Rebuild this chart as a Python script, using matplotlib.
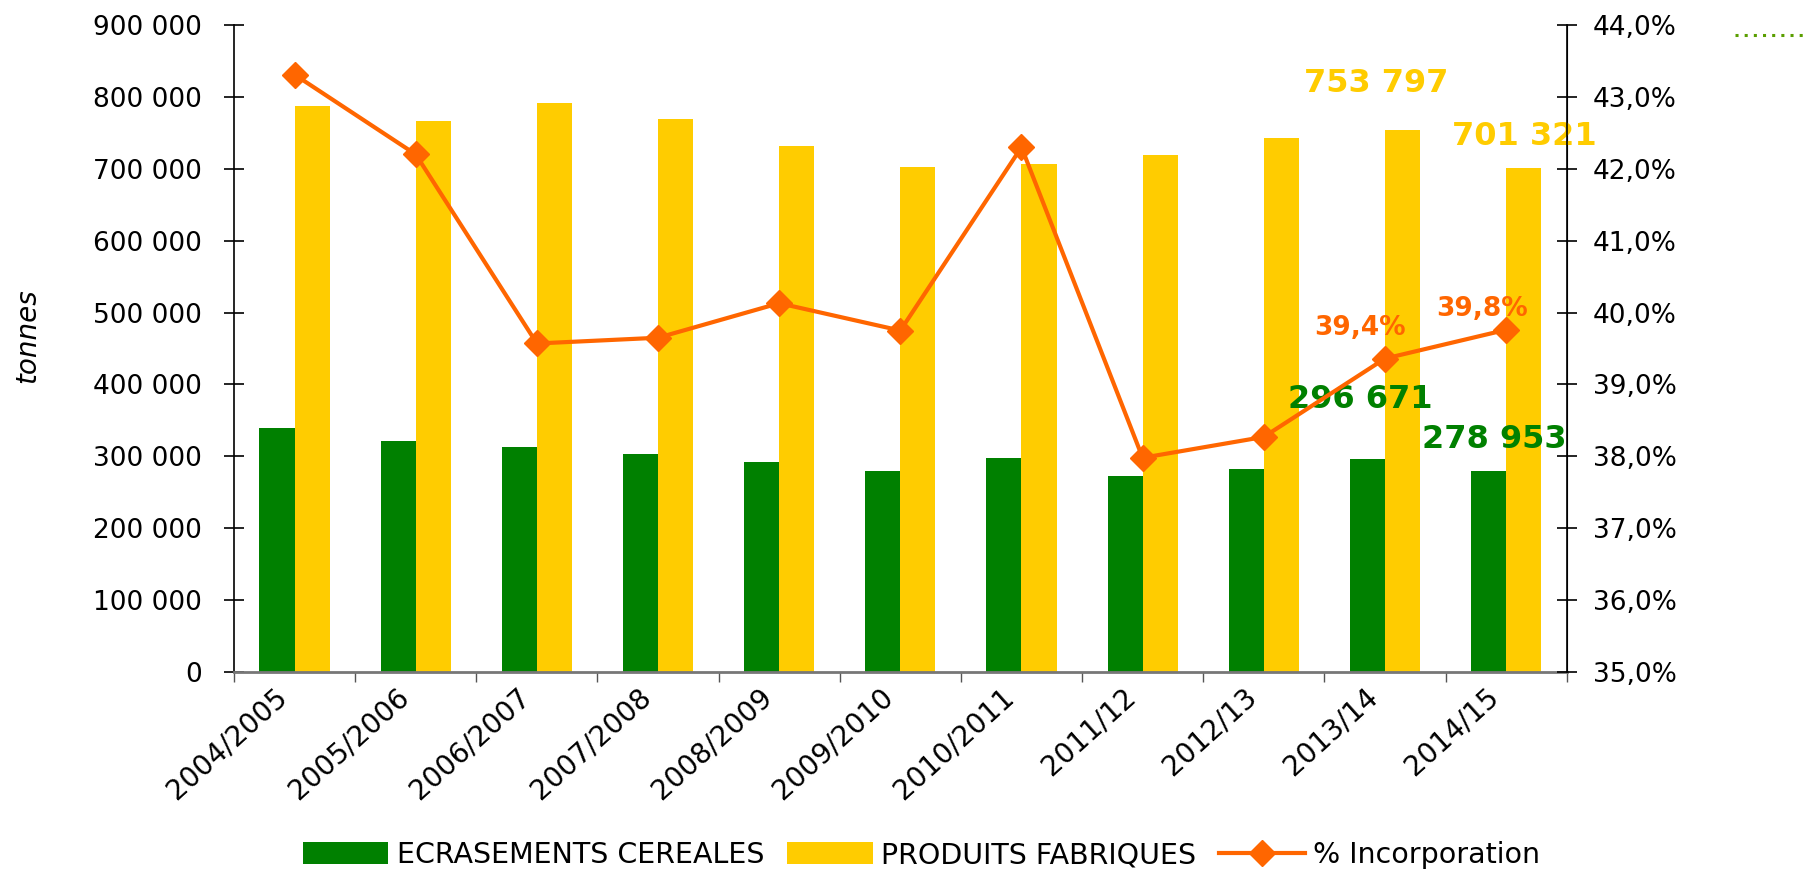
import matplotlib
matplotlib.use("Agg")
import matplotlib.pyplot as plt
from matplotlib.lines import Line2D
import matplotlib.transforms as mtransforms
import numpy as np

categories = ["2004/2005", "2005/2006", "2006/2007", "2007/2008", "2008/2009",
              "2009/2010", "2010/2011", "2011/12", "2012/13", "2013/14", "2014/15"]
ecrasements = [339000, 321000, 312500, 303000, 292000, 280000, 297700, 273000, 282000, 296671, 278953]
produits = [787700, 766600, 792000, 769400, 731400, 703000, 706000, 719000, 743000, 753797, 701321]
incorporation = [43.31, 42.20, 39.57, 39.65, 40.13, 39.75, 42.30, 37.98, 38.27, 39.36, 39.76]
left_ticks = [0, 100000, 200000, 300000, 400000, 500000, 600000, 700000, 800000, 900000]
right_ticks = [35, 36, 37, 38, 39, 40, 41, 42, 43, 44]

GREEN = "#008000"
YELLOW = "#FFCC00"
ORANGE = "#FF6600"

plt.rcParams['font.family'] = ['DejaVu Sans']

fig = plt.figure(figsize=(18.07, 8.69), dpi=100)
ax = fig.add_axes([0.1295, 0.2267, 0.7375, 0.7445])
ax2 = ax.twinx()

x = np.arange(len(categories))
w = 0.29
ax.bar(x - w / 2, ecrasements, width=w, color=GREEN, label="ECRASEMENTS CEREALES", zorder=2)
ax.bar(x + w / 2, produits, width=w, color=YELLOW, label="PRODUITS FABRIQUES", zorder=2)
ax2.plot(x, incorporation, color=ORANGE, lw=3.0, marker="D", markersize=13,
         label="% Incorporation", zorder=3)

ax.set_xlim(-0.5, len(categories) - 0.5)
ax.set_ylim(0, 900000)
ax2.set_ylim(35, 44)

ax.set_yticks(left_ticks)
ax.set_yticklabels([f"{v:,}".replace(",", " ") for v in left_ticks])
ax2.set_yticks(right_ticks)
ax2.set_yticklabels([f"{v:.1f}%".replace(".", ",") for v in right_ticks])

ax.set_xticks(x)
ax.set_xticklabels(categories, rotation=42, ha="right", va="center", rotation_mode="anchor")
ax.set_xticks(np.arange(-0.5, len(categories)), minor=True)
ax.tick_params(axis="x", which="major", length=0, pad=15, labelsize=20)
ax.tick_params(axis="x", which="minor", length=7, width=1, color="#555555", direction="out")
ax.tick_params(axis="y", length=14, width=1.2, direction="inout", pad=16, labelsize=19)
ax2.tick_params(axis="y", length=14, width=1.2, direction="inout", pad=12, labelsize=19)

offset = mtransforms.ScaledTranslation(-11 / 100, 0, fig.dpi_scale_trans)
for lab in ax.get_xticklabels():
    lab.set_transform(lab.get_transform() + offset)

for a in (ax, ax2):
    a.spines["top"].set_visible(False)
ax.spines["bottom"].set_color("#777777")
ax.spines["bottom"].set_linewidth(2)
ax.spines["left"].set_linewidth(1.2)
ax2.spines["right"].set_linewidth(1.2)
ax2.spines["left"].set_visible(False)
ax2.spines["bottom"].set_visible(False)

ax.set_ylabel("tonnes", fontsize=20, style="italic")
ax.yaxis.set_label_coords(-0.145, 0.52)

# data labels
ax.text(9 - 0.07, produits[9] + 65000, "753 797", color=YELLOW, fontsize=23,
        fontweight="bold", ha="center", va="center", zorder=5)
ax.text(10 + 0.15, produits[10] + 44000, "701 321", color=YELLOW, fontsize=23,
        fontweight="bold", ha="center", va="center", zorder=5)
ax.text(9 - 0.20, ecrasements[9] + 83000, "296 671", color=GREEN, fontsize=23,
        fontweight="bold", ha="center", va="center", zorder=5)
ax.text(10 - 0.10, ecrasements[10] + 44000, "278 953", color=GREEN, fontsize=23,
        fontweight="bold", ha="center", va="center", zorder=5)
ax2.text(9 - 0.21, incorporation[9] + 0.42, "39,4%", color=ORANGE, fontsize=19,
         fontweight="bold", ha="center", va="center", zorder=5)
ax2.text(10 - 0.20, incorporation[10] + 0.29, "39,8%", color=ORANGE, fontsize=19,
         fontweight="bold", ha="center", va="center", zorder=5)

# legend
h1, l1 = ax.get_legend_handles_labels()
h2, l2 = ax2.get_legend_handles_labels()
fig.legend(h1 + h2, l1 + l2, loc="center", bbox_to_anchor=(0.51, 0.016), ncol=3,
           frameon=False, fontsize=20.5, handlelength=3.0, handleheight=0.8,
           columnspacing=0.8, handletextpad=0.3, borderpad=0.1)

# decorative dotted line top right
fig.add_artist(Line2D([0.96, 1.0], [0.960, 0.960], transform=fig.transFigure,
                      color="#5A9E00", lw=2.2, linestyle=(0, (1, 2))))

fig.savefig("out.png", dpi=100)
